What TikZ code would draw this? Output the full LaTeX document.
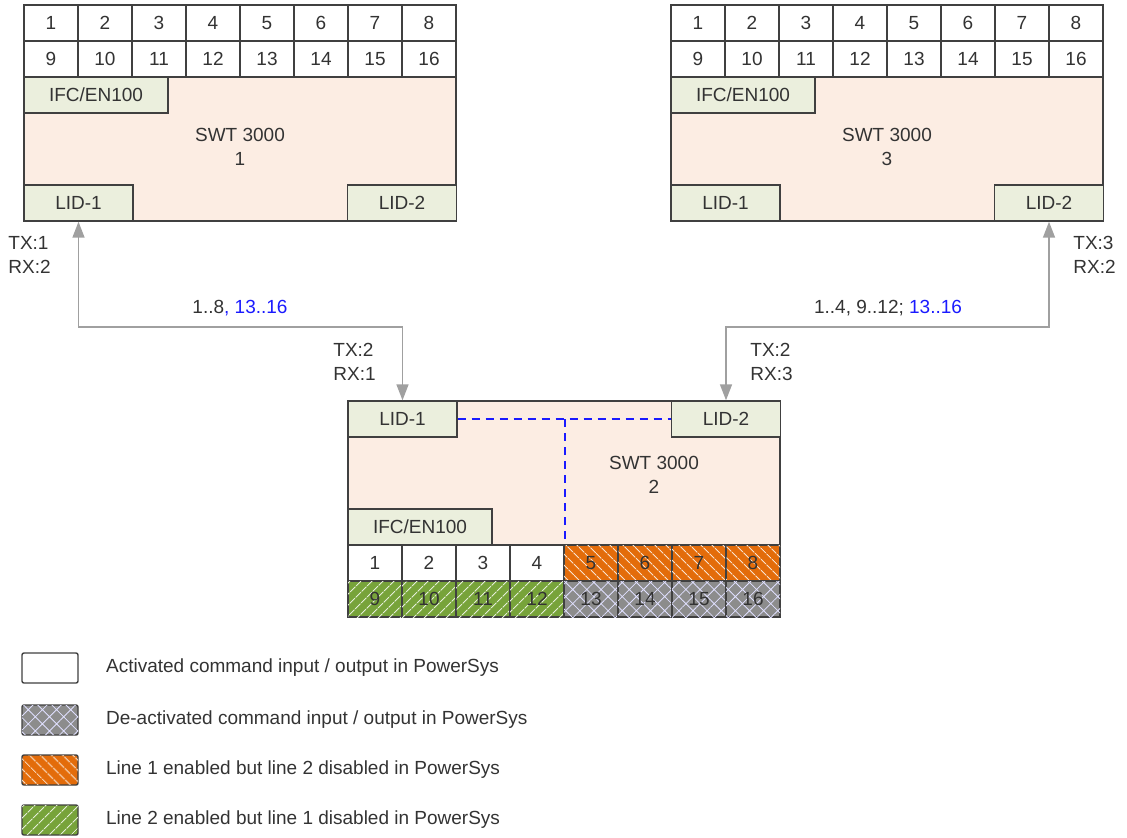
\documentclass[tikz,border=0pt]{standalone}
\usepackage{fontspec}
\setmainfont{Liberation Sans}
\usetikzlibrary{arrows.meta, patterns.meta, positioning}
\definecolor{edge}{HTML}{404040}
\definecolor{bodyfill}{HTML}{FCEDE3}
\definecolor{portfill}{HTML}{EBEFDD}
\definecolor{line1}{HTML}{E36C0A}
\definecolor{line2}{HTML}{77A33A}
\definecolor{offgray}{HTML}{8C8C8C}
\definecolor{linkgray}{HTML}{A0A0A0}
\definecolor{txt}{HTML}{333333}
\definecolor{splitblue}{HTML}{1A1AFF}

\begin{document}
\begin{tikzpicture}[x=0.5pt, y=-0.5pt,
  font=\fontsize{9.5}{12}\selectfont, text=txt,
  body/.style={rectangle, draw=edge, fill=bodyfill, line width=0.7pt, minimum width=216pt, minimum height=72pt, inner sep=0pt},
  port/.style={rectangle, draw=edge, fill=portfill, line width=0.7pt, minimum height=18pt, inner sep=0pt},
  lid/.style={port, minimum width=54.5pt},
  ifc/.style={port, minimum width=72pt},
  cell/.style={rectangle, draw=edge, fill=white, line width=0.7pt, minimum width=27pt, minimum height=18pt, inner sep=0pt},
  onefill/.style={fill=line1, postaction={pattern={Lines[angle=-45, distance=4pt, line width=0.6pt]}, pattern color=white!80!line1}},
  twofill/.style={fill=line2, postaction={pattern={Lines[angle=45, distance=4pt, line width=0.6pt]}, pattern color=white!80!line2}},
  offfill/.style={fill=offgray, postaction={pattern={Hatch[angle=45, distance=5pt, line width=0.4pt]}, pattern color=blue!12!white}},
  cellone/.style={cell, onefill},
  celltwo/.style={cell, twofill},
  celloff/.style={cell, offfill},
  title/.style={align=center, inner sep=0pt},
  sig/.style={align=left, inner sep=0pt, anchor=west},
  link/.style={draw=linkgray, line width=0.8pt, {Triangle[width=6pt, length=8pt]}-{Triangle[width=6pt, length=8pt]}},
  split/.style={draw=splitblue, line width=0.9pt, dash pattern=on 4pt off 3pt},
  key/.style={rectangle, draw=edge, line width=0.7pt, rounded corners=1pt, minimum width=28pt, minimum height=15pt, inner sep=0pt},
  legtext/.style={inner sep=0pt, anchor=west}
]
\useasboundingbox (0,0) rectangle (1127,837);

% SWT 3000 units 1 and 3 (cells on top)
\foreach \d/\ox in {1/24, 3/671} {
  \node[body] (d\d) at ({\ox+216}, 149) {};
  \foreach \i in {1,...,8} {
    \pgfmathtruncatemacro\j{\i+8}
    \node[cell] (d\d c\i) at ({\ox+54*\i-27}, 23) {\i};
    \node[cell] (d\d c\j) at ({\ox+54*\i-27}, 59) {\j};
  }
  \node[ifc] (d\d ifc) at ({\ox+72}, 95) {IFC/EN100};
  \node[lid] (d\d lid1) at ({\ox+54.5}, 203) {LID-1};
  \node[lid] (d\d lid2) at ({\ox+378}, 203) {LID-2};
  \node[title] (d\d name) at ({\ox+216}, 147) {SWT 3000\\\d};
}

% SWT 3000 unit 2 (cells below)
\node[body] (d2) at (564, 473) {};
\foreach \i in {1,...,8} {
  \pgfmathtruncatemacro\j{\i+8}
  \ifnum\i<5
    \node[cell] (d2c\i) at ({348+54*\i-27}, 563) {\i};
    \node[celltwo] (d2c\j) at ({348+54*\i-27}, 599) {\j};
  \else
    \node[cellone] (d2c\i) at ({348+54*\i-27}, 563) {\i};
    \node[celloff] (d2c\j) at ({348+54*\i-27}, 599) {\j};
  \fi
}
\node[lid] (d2lid1) at (402.5, 419) {LID-1};
\node[lid] (d2lid2) at (726, 419) {LID-2};
\node[ifc] (d2ifc) at (420, 527) {IFC/EN100};
\node[title] (d2name) at (654, 475) {SWT 3000\\2};

\draw[split] (d2lid1.east) -- (d2lid2.west);
\draw[split] (d2c4.north east |- d2lid1.east) -- (d2c4.north east);

% links
\coordinate (j1) at (240, 327);
\coordinate (j3) at (888, 327);
\draw[link] (d1lid1.south) |- (j1) -| (d2lid1.north);
\draw[link] (d3lid2.south) |- (j3) -| (d2lid2.north);
\node[inner sep=0pt] (r1) at (240, 308) {1..8\textcolor{splitblue}{, 13..16}};
\node[inner sep=0pt] (r3) at (888, 308) {1..4, 9..12; \textcolor{splitblue}{13..16}};

\node[sig] (s1) at (8, 255) {TX:1\\RX:2};
\node[sig] (s21) at (333, 362) {TX:2\\RX:1};
\node[sig] (s23) at (750, 362) {TX:2\\RX:3};
\node[sig] (s3) at (1073, 255) {TX:3\\RX:2};

% legend
\node[key, fill=white] (key1) at (50, 668) {};
\node[key, offfill] (key2) at (50, 720) {};
\node[key, onefill] (key3) at (50, 770) {};
\node[key, twofill] (key4) at (50, 820) {};
\node[legtext, right=13.5pt of key1] (leg1) {Activated command input / output in PowerSys};
\node[legtext, right=13.5pt of key2] (leg2) {De-activated command input / output in PowerSys};
\node[legtext, right=13.5pt of key3] (leg3) {Line 1 enabled but line 2 disabled in PowerSys};
\node[legtext, right=13.5pt of key4] (leg4) {Line 2 enabled but line 1 disabled in PowerSys};
\end{tikzpicture}
\end{document}
